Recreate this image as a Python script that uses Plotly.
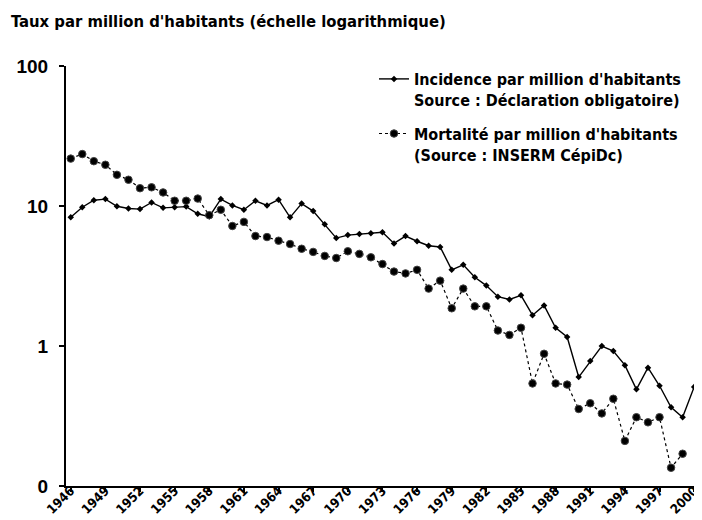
import plotly.graph_objects as go

years = list(range(1946, 2002))

incidence = [8.3, 9.8, 11.0, 11.2, 9.95, 9.6, 9.5, 10.6, 9.7, 9.8,
             9.9, 8.8, 8.4, 11.2, 10.1, 9.4, 10.9, 10.1, 11.1, 8.3,
             10.4, 9.2, 7.4, 5.9, 6.2, 6.3, 6.4, 6.5, 5.4, 6.1,
             5.6, 5.2, 5.1, 3.5, 3.8, 3.1, 2.7, 2.25, 2.15, 2.3,
             1.66, 1.95, 1.35, 1.16, 0.60, 0.78, 1.0, 0.92, 0.73, 0.49,
             0.70, 0.52, 0.365, 0.31, 0.51, 0.46]

mortalite = [21.8, 23.5, 20.9, 19.7, 16.7, 15.4, 13.4, 13.6, 12.5, 10.9,
             10.9, 11.3, 8.6, 9.4, 7.2, 7.7, 6.1, 6.0, 5.65, 5.35,
             4.95, 4.7, 4.4, 4.25, 4.75, 4.55, 4.3, 3.85, 3.4, 3.3,
             3.5, 2.57, 2.93, 1.86, 2.57, 1.92, 1.92, 1.29, 1.2, 1.35,
             0.54, 0.88, 0.54, 0.53, 0.355, 0.39, 0.33, 0.42, 0.21, 0.31,
             0.285, 0.31, 0.135, 0.17, None, None]

x_ticks = list(range(1946, 2001, 3))
y_ticks = [0.1, 1, 10, 100]
y_ticklabels = ["0", "1", "10", "100"]

name_inc = "Incidence par million d'habitants<br>Source : Déclaration obligatoire)"
name_mort = "Mortalité par million d'habitants<br>(Source : INSERM CépiDc)"
title_text = "Taux par million d'habitants (échelle logarithmique)"

NARROW = "DejaVu Sans Condensed, Liberation Sans Narrow, Arial Narrow, sans-serif"
SANS = "Liberation Sans, Arial, sans-serif"

fig = go.Figure()
fig.add_trace(go.Scatter(
    x=years, y=incidence, name=name_inc, mode="lines+markers",
    legendgroup="inc",
    line=dict(color="black", width=1.4),
    marker=dict(symbol="diamond", size=5, color="black"),
))
fig.add_trace(go.Scatter(
    x=years, y=mortalite, name=name_mort, mode="lines+markers",
    legendgroup="mort", connectgaps=False,
    line=dict(color="black", width=1.2, dash="dot"),
    marker=dict(symbol="circle", size=7.5, color="black",
                line=dict(color="#444", width=1)),
))

fig.update_layout(
    width=702, height=520,
    paper_bgcolor="white", plot_bgcolor="white",
    margin=dict(l=58, r=2, t=58, b=42, autoexpand=False),
    showlegend=True,
    legend=dict(x=(366 - 58) / 642, y=1 + (58 - 54) / 420,
                xanchor="left", yanchor="top",
                bgcolor="rgba(0,0,0,0)", valign="top",
                font=dict(family=NARROW, size=16, color="black",
                          weight="bold"),
                itemwidth=30, tracegroupgap=10),
    font=dict(family=SANS, color="black"),
)
fig.add_annotation(
    text="<b>" + title_text + "</b>", xref="paper", yref="paper",
    x=-57 / 642, y=1 + 44 / 420, xanchor="left", yanchor="middle",
    showarrow=False, font=dict(family=NARROW, size=16.5, color="black"),
)

fig.update_xaxes(
    range=[1945.59, 2001.2], tickmode="array", tickvals=x_ticks,
    ticktext=[str(v) for v in x_ticks], tickangle=-45,
    ticks="outside", ticklen=4, tickwidth=1.5, tickcolor="black",
    showline=True, linecolor="black", linewidth=2, showgrid=False,
    zeroline=False, automargin=False, ticklabelstandoff=-14,
    ticklabelshift=0, ticklabeloverflow="allow",
    tickfont=dict(family=NARROW, size=13, color="black", weight="bold"),
)
fig.update_yaxes(
    type="log", range=[-1, 2], tickmode="array", tickvals=y_ticks,
    ticktext=y_ticklabels,
    ticks="outside", ticklen=5, tickwidth=1.5, tickcolor="black",
    showline=True, linecolor="black", linewidth=2, showgrid=False,
    zeroline=False, automargin=False, ticklabelstandoff=7,
    tickfont=dict(family=SANS, size=19, color="black", weight="bold"),
)

fig.write_html("out.html")
